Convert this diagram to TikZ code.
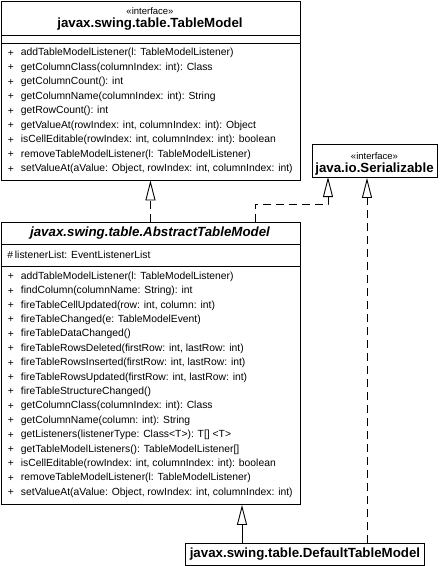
\documentclass[tikz,border=0pt]{standalone}
\usepackage{fontspec}
\setmainfont{Liberation Sans}
\usetikzlibrary{arrows.meta}
\begin{document}
\begin{tikzpicture}[x=1pt,y=-1pt,line width=0.9pt,
  classbox/.style={draw,anchor=north west,inner sep=0pt},
  stereo/.style={inner sep=0pt,font=\fontsize{9.5}{10}\selectfont},
  cname/.style={inner sep=0pt,font=\fontsize{13.3}{15}\selectfont\bfseries},
  member/.style={anchor=west,inner sep=0pt,font=\fontsize{10.35}{12}\selectfont},
  realize/.style={dash pattern=on 8pt off 5pt,-{Triangle[open,length=20pt,width=10pt]}},
  extend/.style={-{Triangle[open,length=20pt,width=10pt]}}]
\useasboundingbox[fill=white] (0,0) rectangle (442,566);
\node[classbox,minimum width=299pt,minimum height=179pt] (tm) at (0.5,0.5) {};
\node[stereo] (tm-st) at (150,11) {«interface»};
\node[cname] (tm-name) at (150,24) {javax.swing.table.TableModel};
\draw (0.5,35) -- (299.5,35) (0.5,43) -- (299.5,43);
\foreach \m [count=\i] in {{addTableModelListener(l: TableModelListener)},{getColumnClass(columnIndex: int): Class},{getColumnCount(): int},{getColumnName(columnIndex: int): String},{getRowCount(): int},{getValueAt(rowIndex: int, columnIndex: int): Object},{isCellEditable(rowIndex: int, columnIndex: int): boolean},{removeTableModelListener(l: TableModelListener)},{setValueAt(aValue: Object, rowIndex: int, columnIndex: int)}}{
\pgfmathsetmacro{\y}{53.3+14.5*(\i-1)}
\node[member] at (7.5,\y) {+};
\node[member] (tm-m\i) at (20.5,\y) {\m};
}
\node[classbox,minimum width=125pt,minimum height=33pt] (sr) at (312,144) {};
\node[stereo] (sr-st) at (374.5,156) {«interface»};
\node[cname] (sr-name) at (374.5,169) {java.io.Serializable};
\node[classbox,minimum width=299pt,minimum height=282pt] (atm) at (0.5,222) {};
\node[cname,font=\fontsize{13.3}{15}\selectfont\bfseries\itshape] (atm-name) at (150,233) {javax.swing.table.AbstractTableModel};
\draw (0.5,244) -- (299.5,244) (0.5,266) -- (299.5,266);
\node[member] (atm-a1) at (7,254.5) {\#\,listenerList: EventListenerList};
\foreach \m [count=\i] in {{addTableModelListener(l: TableModelListener)},{findColumn(columnName: String): int},{fireTableCellUpdated(row: int, column: int)},{fireTableChanged(e: TableModelEvent)},{fireTableDataChanged()},{fireTableRowsDeleted(firstRow: int, lastRow: int)},{fireTableRowsInserted(firstRow: int, lastRow: int)},{fireTableRowsUpdated(firstRow: int, lastRow: int)},{fireTableStructureChanged()},{getColumnClass(columnIndex: int): Class},{getColumnName(column: int): String},{getListeners(listenerType: Class<T>): T[] <T>},{getTableModelListeners(): TableModelListener[]},{isCellEditable(rowIndex: int, columnIndex: int): boolean},{removeTableModelListener(l: TableModelListener)},{setValueAt(aValue: Object, rowIndex: int, columnIndex: int)}}{
\pgfmathsetmacro{\y}{276.7+14.4*(\i-1)}
\node[member] at (7.5,\y) {+};
\node[member] (atm-m\i) at (20.5,\y) {\m};
}
\node[classbox,minimum width=239pt,minimum height=22pt] (dtm) at (185,543) {};
\node[cname] (dtm-name) at (dtm.center) {javax.swing.table.DefaultTableModel};
\coordinate (atm-r) at (255,222);
\coordinate (sr-a) at (328,177);
\coordinate (dtm-l) at (242,543);
\coordinate (dtm-r) at (367,543);
\draw[realize] (atm.north) -- (tm.south);
\draw[realize] (atm-r) -- ++(0,-18) -| (sr-a);
\draw[extend] (dtm-l) -- (dtm-l |- atm.south);
\draw[realize] (dtm-r) -- (dtm-r |- sr.south);
\end{tikzpicture}
\end{document}
